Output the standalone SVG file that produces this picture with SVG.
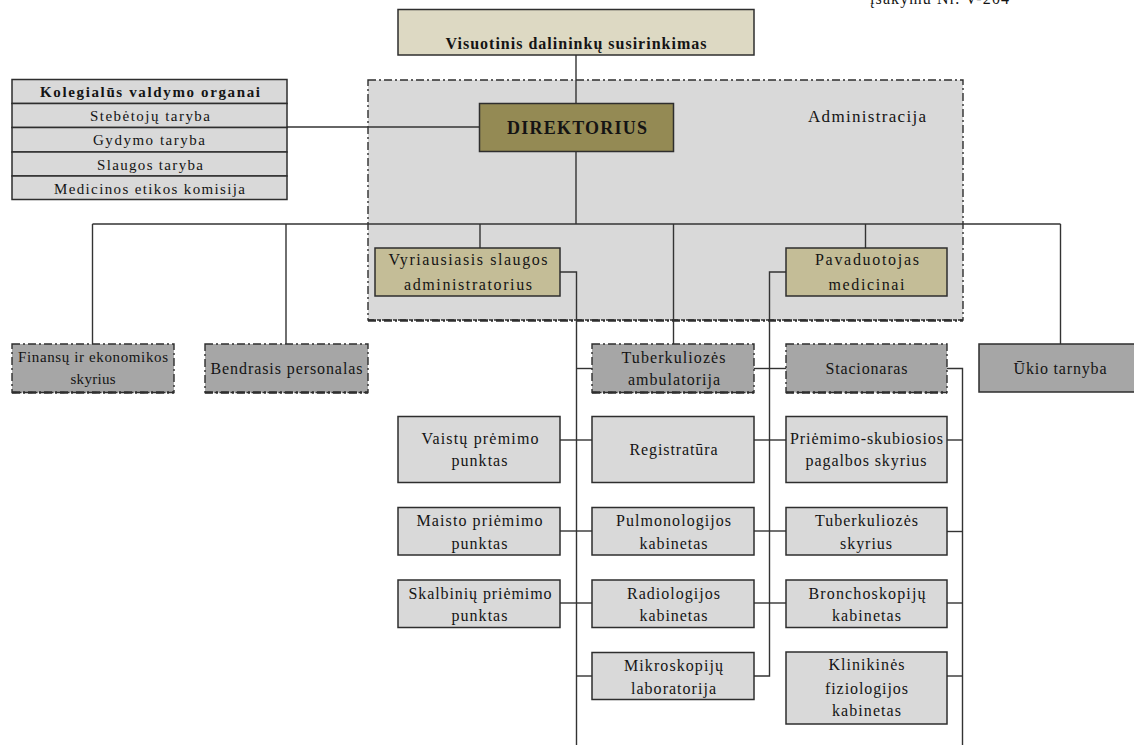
<svg xmlns="http://www.w3.org/2000/svg" width="1134" height="745" viewBox="0 0 1134 745">
<style>
text{font-family:"Liberation Serif","Times New Roman",serif;font-size:16px;fill:#141414;text-anchor:middle}
.b{font-weight:bold}
.box{stroke:#2e2e2e;stroke-width:1.5}
.lt{fill:#d9d9d9}
.dk{fill:#a6a6a6}
.tan{fill:#c4bd97}
.dash{stroke:#2e2e2e;stroke-width:1.4;stroke-dasharray:8 3 2 3}
.dashb{stroke:#2e2e2e;stroke-width:2.6;stroke-dasharray:8 3 2 3;fill:none}
.con path,.con line{stroke:#333;stroke-width:1.4;fill:none}
</style>

<text x="870" y="4" style="text-anchor:start" textLength="139">įsakymu Nr. V-204</text>

<g id="administracija">
<rect x="368" y="80" width="595" height="240" fill="#d9d9d9" class="dash" stroke="#2e2e2e"/>
<line x1="368" y1="320.5" x2="963" y2="320.5" class="dashb"/>
<text x="808" y="122" style="text-anchor:start;font-size:17px" textLength="118">Administracija</text>
</g>

<g class="con" id="connectors">
<line x1="576" y1="55" x2="576" y2="104"/>
<line x1="287" y1="127" x2="480" y2="127"/>
<line x1="576" y1="151" x2="576" y2="224"/>
<line x1="92.5" y1="224" x2="1060.5" y2="224"/>
<line x1="92.5" y1="224" x2="92.5" y2="344"/>
<line x1="286" y1="224" x2="286" y2="344"/>
<line x1="480" y1="224" x2="480" y2="248"/>
<line x1="673.5" y1="224" x2="673.5" y2="344"/>
<line x1="865.5" y1="224" x2="865.5" y2="248"/>
<line x1="1060.5" y1="224" x2="1060.5" y2="344"/>
<path d="M560 272H576.5V745"/>
<line x1="576.5" y1="368.5" x2="592" y2="368.5"/>
<line x1="560" y1="440" x2="592" y2="440"/>
<line x1="560" y1="531" x2="592" y2="531"/>
<line x1="560" y1="603" x2="592" y2="603"/>
<line x1="576.5" y1="676" x2="592" y2="676"/>
<path d="M786 272H769.5V676H754"/>
<line x1="754" y1="368.5" x2="786" y2="368.5"/>
<line x1="754" y1="440" x2="786" y2="440"/>
<line x1="754" y1="531" x2="786" y2="531"/>
<line x1="754" y1="603" x2="786" y2="603"/>
<path d="M947 368.5H962.5V745"/>
<line x1="947" y1="440" x2="962.5" y2="440"/>
<line x1="947" y1="531.5" x2="962.5" y2="531.5"/>
<line x1="947" y1="603" x2="962.5" y2="603"/>
<line x1="947" y1="676" x2="962.5" y2="676"/>
</g>

<g id="visuotinis">
<rect x="398" y="9.5" width="356" height="45.5" fill="#ddd9c3" class="box"/>
<text x="576" y="48.5" class="b" textLength="261">Visuotinis dalininkų susirinkimas</text>
</g>

<g id="kolegialus">
<rect x="12" y="79.5" width="275" height="24" class="box lt"/>
<rect x="12" y="103.5" width="275" height="24" class="box lt"/>
<rect x="12" y="127.5" width="275" height="24.5" class="box lt"/>
<rect x="12" y="152" width="275" height="24" class="box lt"/>
<rect x="12" y="176" width="275" height="23.5" class="box lt"/>
<text x="150" y="97" class="b" style="font-size:15px" textLength="220">Kolegialūs valdymo organai</text>
<text x="150" y="121" style="font-size:15px" textLength="120">Stebėtojų taryba</text>
<text x="149" y="145" style="font-size:15px" textLength="112">Gydymo taryba</text>
<text x="150" y="169.5" style="font-size:15px" textLength="106">Slaugos taryba</text>
<text x="149.5" y="193.5" style="font-size:15px" textLength="191">Medicinos etikos komisija</text>
</g>

<g id="direktorius">
<rect x="479.5" y="103.5" width="194" height="48" fill="#948a54" class="box"/>
<text x="577" y="133.5" class="b" style="font-size:18px" textLength="140">DIREKTORIUS</text>
</g>

<g id="vyriausiasis">
<rect x="375" y="248" width="185" height="48" class="box tan"/>
<text x="468" y="265" textLength="159">Vyriausiasis slaugos</text>
<text x="468" y="290" textLength="128">administratorius</text>
</g>

<g id="pavaduotojas">
<rect x="786" y="248" width="161" height="48" class="box tan"/>
<text x="867" y="265" textLength="104">Pavaduotojas</text>
<text x="866.5" y="290" textLength="76">medicinai</text>
</g>

<g id="finansu">
<rect x="12" y="344" width="162" height="48.5" class="dk dash"/>
<line x1="12" y1="392.5" x2="174" y2="392.5" class="dashb"/>
<text x="93" y="361.5" style="font-size:15px" textLength="150">Finansų ir ekonomikos</text>
<text x="93" y="383.5" style="font-size:15px" textLength="45">skyrius</text>
</g>

<g id="bendrasis">
<rect x="205" y="344" width="163" height="48.5" class="dk dash"/>
<line x1="205" y1="392.5" x2="368" y2="392.5" class="dashb"/>
<text x="286.5" y="373.5" textLength="152">Bendrasis personalas</text>
</g>

<g id="tuberkulioze-amb">
<rect x="592" y="344" width="162" height="48.5" class="dk dash"/>
<line x1="592" y1="392.5" x2="754" y2="392.5" class="dashb"/>
<text x="673.5" y="362.5" textLength="104">Tuberkuliozės</text>
<text x="674" y="385" textLength="92">ambulatorija</text>
</g>

<g id="stacionaras">
<rect x="786" y="344" width="161" height="48.5" class="dk dash"/>
<line x1="786" y1="392.5" x2="947" y2="392.5" class="dashb"/>
<text x="866.5" y="373.5" textLength="82">Stacionaras</text>
</g>

<g id="ukio">
<rect x="979" y="344" width="162" height="48" class="box dk"/>
<text x="1060" y="373.5" textLength="93">Ūkio tarnyba</text>
</g>

<g id="vaistu">
<rect x="398" y="416.5" width="162" height="66" class="box lt"/>
<text x="480" y="443.5" textLength="117">Vaistų prėmimo</text>
<text x="479.5" y="466" textLength="56">punktas</text>
</g>

<g id="maisto">
<rect x="398" y="507.5" width="162" height="47.5" class="box lt"/>
<text x="479.5" y="526" textLength="126">Maisto priėmimo</text>
<text x="479.5" y="548.5" textLength="56">punktas</text>
</g>

<g id="skalbiniu">
<rect x="398" y="580" width="162" height="47.5" class="box lt"/>
<text x="480" y="598.5" textLength="143">Skalbinių priėmimo</text>
<text x="479.5" y="620.5" textLength="56">punktas</text>
</g>

<g id="registratura">
<rect x="592" y="416.5" width="162" height="66" class="box lt"/>
<text x="673.5" y="455" textLength="88">Registratūra</text>
</g>

<g id="pulmonologijos">
<rect x="592" y="507.5" width="162" height="47.5" class="box lt"/>
<text x="673.5" y="526" textLength="115">Pulmonologijos</text>
<text x="673.5" y="548.5" textLength="68">kabinetas</text>
</g>

<g id="radiologijos">
<rect x="592" y="580" width="162" height="47.5" class="box lt"/>
<text x="673.5" y="598.5" textLength="93">Radiologijos</text>
<text x="673.5" y="620.5" textLength="68">kabinetas</text>
</g>

<g id="mikroskopiju">
<rect x="592" y="652.5" width="162" height="47" class="box lt"/>
<text x="673.5" y="671" textLength="99">Mikroskopijų</text>
<text x="673.5" y="693.5" textLength="85">laboratorija</text>
</g>

<g id="priemimo">
<rect x="786" y="416.5" width="161" height="66" class="box lt"/>
<text x="866.5" y="443.5" textLength="153">Priėmimo-skubiosios</text>
<text x="866" y="466" textLength="121">pagalbos skyrius</text>
</g>

<g id="tuberkulioze-sk">
<rect x="786" y="507.5" width="161" height="47.5" class="box lt"/>
<text x="866.5" y="526" textLength="103">Tuberkuliozės</text>
<text x="866" y="548.5" textLength="52">skyrius</text>
</g>

<g id="bronchoskopiju">
<rect x="786" y="580" width="161" height="47.5" class="box lt"/>
<text x="867" y="598.5" textLength="117">Bronchoskopijų</text>
<text x="866.5" y="620.5" textLength="69">kabinetas</text>
</g>

<g id="klinikines">
<rect x="786" y="652" width="161" height="72" class="box lt"/>
<text x="866.5" y="670" textLength="76">Klinikinės</text>
<text x="866.5" y="693.5" textLength="83">fiziologijos</text>
<text x="866.5" y="716" textLength="69">kabinetas</text>
</g>
</svg>
